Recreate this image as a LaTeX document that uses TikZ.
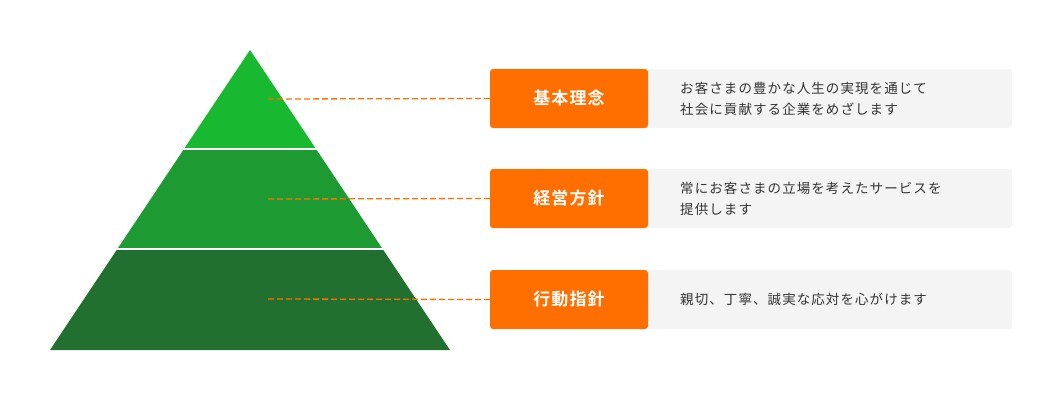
\documentclass[tikz,border=0pt]{standalone}
\usepackage{fontspec}
\newfontfamily\jp[LetterSpace=8]{Noto Sans CJK JP}
\newfontfamily\jpb[LetterSpace=6]{Noto Sans CJK JP Bold}
\definecolor{g1}{HTML}{19B831}
\definecolor{g2}{HTML}{1E9A32}
\definecolor{g3}{HTML}{21702F}
\definecolor{org}{HTML}{FF6F00}
\definecolor{gry}{HTML}{F4F4F4}
\definecolor{txt}{HTML}{333333}
\begin{document}
\begin{tikzpicture}[x=1pt,y=-1pt,
  lab/.style={fill=org,rounded corners=3pt,minimum width=158pt,minimum height=59pt,inner sep=0pt,text=white,font=\jpb\fontsize{17}{20}\selectfont},
  desc/.style={fill=gry,rounded corners=3pt,minimum width=364pt,minimum height=59pt,inner sep=0pt},
  dtext/.style={anchor=west,align=left,text=txt,font=\jp\fontsize{13.5}{21}\selectfont,inner sep=0pt},
  con/.style={org,dashed,dash pattern=on 6pt off 3pt,line width=1.3pt}]
\useasboundingbox (0,0) rectangle (1062,400);
\fill[g1] (250,50) -- (316.7,150) -- (183.3,150) -- cycle;
\fill[g2] (183.3,150) -- (316.7,150) -- (383.3,250) -- (116.7,250) -- cycle;
\fill[g3] (116.7,250) -- (383.3,250) -- (450,350) -- (50,350) -- cycle;
\draw[white,line width=2pt] (182,149) -- (318,149) (115,249) -- (385,249);
\foreach \i/\y in {1/99,2/199,3/299} \coordinate (p\i) at (268,\y);
\node[desc] (d1) at (830,98.5) {};
\node[desc] (d2) at (830,198.5) {};
\node[desc] (d3) at (830,299.5) {};
\node[lab] (l1) at (569,98.5) {基本理念};
\node[lab] (l2) at (569,198.5) {経営方針};
\node[lab] (l3) at (569,299.5) {行動指針};
\node[dtext] (t1) at (680,98.5) {お客さまの豊かな人生の実現を通じて\\社会に貢献する企業をめざします};
\node[dtext] (t2) at (680,198.5) {常にお客さまの立場を考えたサービスを\\提供します};
\node[dtext] (t3) at (680,299.5) {親切、丁寧、誠実な応対を心がけます};
\draw[con] (p1) -- (l1.west);
\draw[con] (p2) -- (l2.west);
\draw[con] (p3) -- (l3.west);
\end{tikzpicture}
\end{document}
